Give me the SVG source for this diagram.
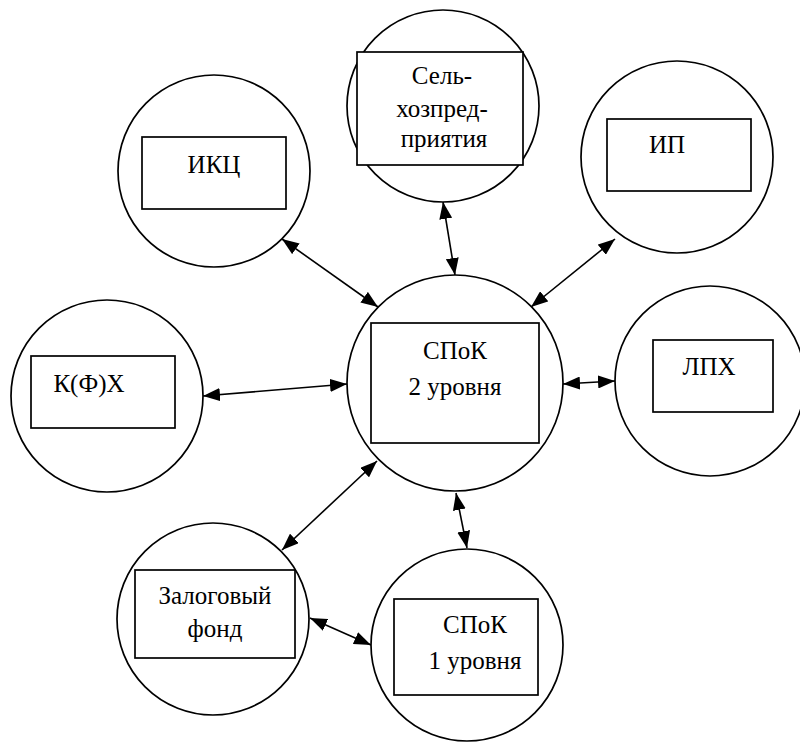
<svg xmlns="http://www.w3.org/2000/svg" width="800" height="742" viewBox="0 0 800 742" xml:lang="ru">
<defs>
<marker id="ah" viewBox="0 0 17 13" refX="17" refY="6.5" markerWidth="17" markerHeight="13" markerUnits="userSpaceOnUse" orient="auto-start-reverse">
<path d="M0,0 L17,6.5 L0,13 z" fill="#000"/>
</marker>
</defs>
<rect width="800" height="742" fill="#fff"/>
<g id="connectors" stroke="#000" stroke-width="1.6" fill="none" marker-start="url(#ah)" marker-end="url(#ah)">
<line x1="443" y1="202" x2="455" y2="275"/>
<line x1="282" y1="239" x2="378" y2="307"/>
<line x1="615" y1="239" x2="531" y2="307"/>
<line x1="203" y1="396" x2="347" y2="384"/>
<line x1="563" y1="384" x2="615" y2="381"/>
<line x1="377" y1="461" x2="282" y2="550"/>
<line x1="456" y1="493" x2="467" y2="548"/>
<line x1="310" y1="618" x2="371" y2="645"/>
</g>
<g id="nodes" stroke="#000" stroke-width="1.7" fill="#fff">
<g id="n-sel">
<circle cx="443" cy="106" r="96"/>
<rect x="357" y="52" width="166" height="113"/>
</g>
<g id="n-ikc">
<circle cx="214" cy="171" r="96"/>
<rect x="142" y="137" width="144" height="72"/>
</g>
<g id="n-ip">
<circle cx="677" cy="157" r="96"/>
<rect x="607" y="119" width="144" height="72"/>
</g>
<g id="n-kfh">
<circle cx="107" cy="396" r="96"/>
<rect x="31" y="356" width="144" height="72"/>
</g>
<g id="n-spok2">
<circle cx="455" cy="383" r="108"/>
<rect x="371" y="323" width="168" height="120"/>
</g>
<g id="n-lph">
<circle cx="710" cy="381" r="95"/>
<rect x="653" y="340" width="120" height="72"/>
</g>
<g id="n-zalog">
<circle cx="213" cy="619" r="96"/>
<rect x="135" y="570" width="160" height="88"/>
</g>
<g id="n-spok1">
<circle cx="467" cy="645" r="96"/>
<rect x="394" y="599" width="144" height="96"/>
</g>
</g>
<g id="labels" font-family="Times New Roman, Liberation Serif, serif" font-size="25" text-anchor="middle" fill="#000">
<text x="442" y="84">Сель-</text>
<text x="442" y="117">хозпред-</text>
<text x="444" y="147">приятия</text>
<text x="214" y="173">ИКЦ</text>
<text x="667" y="153">ИП</text>
<text x="89" y="392">К(Ф)Х</text>
<text x="455" y="359">СПоК</text>
<text x="455" y="395">2 уровня</text>
<text x="709" y="375">ЛПХ</text>
<text x="215" y="604">Залоговый</text>
<text x="215" y="637">фонд</text>
<text x="475" y="633">СПоК</text>
<text x="475" y="669">1 уровня</text>
</g>
</svg>
